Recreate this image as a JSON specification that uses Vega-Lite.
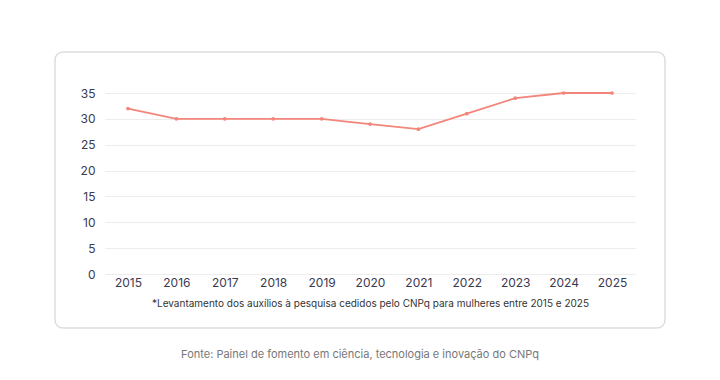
{
  "$schema": "https://vega.github.io/schema/vega-lite/v6.json",
  "width": 610,
  "height": 276,
  "padding": {"left": 55, "top": 52, "right": 55, "bottom": 10},
  "background": "white",
  "config": {
    "font": "Inter",
    "view": {"stroke": "#dddddd", "strokeWidth": 1.5, "cornerRadius": 8}
  },
  "title": {
    "text": "Fonte: Painel de fomento em ciência, tecnologia e inovação do CNPq",
    "orient": "bottom",
    "anchor": "middle",
    "fontSize": 11,
    "fontWeight": "normal",
    "color": "#777777",
    "offset": 21
  },
  "data": {
    "values": [
      {"ano": 2015, "valor": 32},
      {"ano": 2016, "valor": 30},
      {"ano": 2017, "valor": 30},
      {"ano": 2018, "valor": 30},
      {"ano": 2019, "valor": 30},
      {"ano": 2020, "valor": 29},
      {"ano": 2021, "valor": 28},
      {"ano": 2022, "valor": 31},
      {"ano": 2023, "valor": 34},
      {"ano": 2024, "valor": 35},
      {"ano": 2025, "valor": 35}
    ]
  },
  "encoding": {
    "x": {
      "field": "ano",
      "type": "ordinal",
      "scale": {"type": "point", "range": [50, 580], "padding": 0.475},
      "axis": {
        "title": "*Levantamento dos auxílios à pesquisa cedidos pelo CNPq para mulheres entre 2015 e 2025",
        "titleFontSize": 10,
        "titleFontWeight": "normal",
        "titleColor": "#333333",
        "titlePadding": 10,
        "labelAngle": 0,
        "labelFontSize": 12,
        "labelColor": "#3a3a50",
        "labelPadding": 3,
        "domain": false,
        "ticks": false,
        "grid": false,
        "offset": -54
      }
    },
    "y": {
      "field": "valor",
      "type": "quantitative",
      "scale": {"domain": [0, 35], "range": [222, 41], "nice": false},
      "axis": {
        "title": null,
        "values": [0, 5, 10, 15, 20, 25, 30, 35],
        "labelFontSize": 12,
        "labelColor": "#3a3a50",
        "labelPadding": 4,
        "domain": false,
        "ticks": false,
        "grid": true,
        "gridColor": "#ececec",
        "offset": -44
      }
    }
  },
  "layer": [
    {"mark": {"type": "line", "color": "#f4857b", "strokeWidth": 1.8}},
    {"mark": {"type": "point", "filled": true, "color": "#f4857b", "size": 14, "opacity": 1}}
  ]
}
